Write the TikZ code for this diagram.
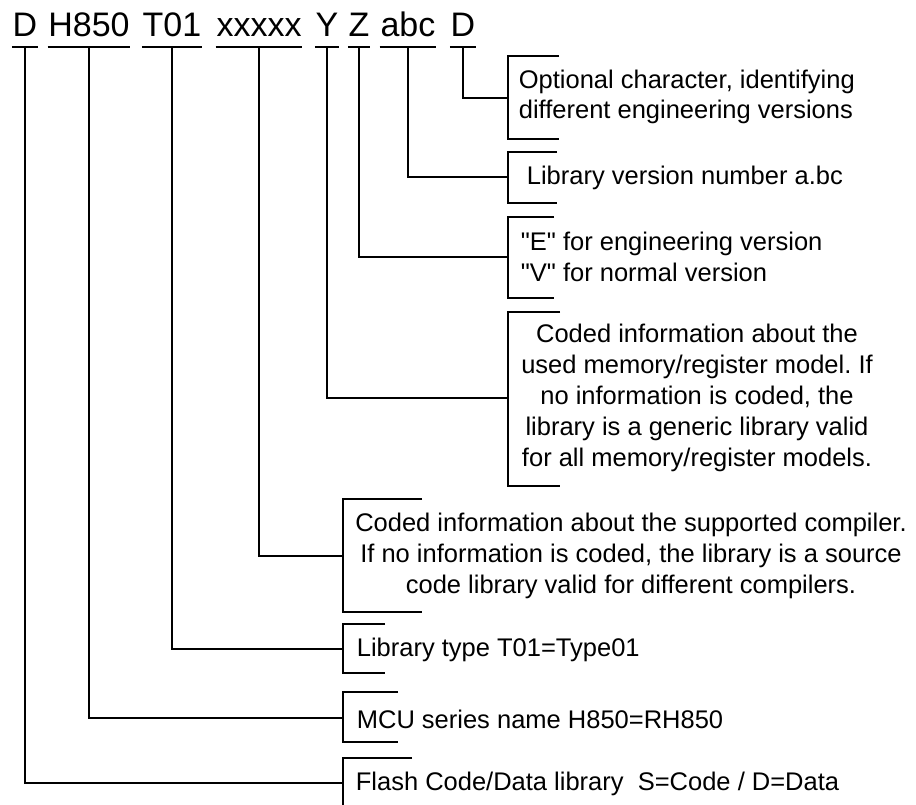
\documentclass[tikz,border=0pt]{standalone}
\usepackage{fontspec}
\setmainfont{Liberation Sans}[Ligatures=TeXOff]
\frenchspacing
\begin{document}
\begin{tikzpicture}[x=1pt,y=-1pt,line width=1.7pt,line join=miter,
  code/.style={font=\fontsize{34}{40}\selectfont,inner sep=0pt,anchor=base},
  desc/.style={font=\fontsize{25.5}{30.5}\selectfont,inner sep=0pt,align=left,anchor=west},
  descc/.style={font=\fontsize{25.5}{30.8}\selectfont,inner sep=0pt,align=center,anchor=center},
  ul/.style={line width=1.7pt},
  brk/.style={line width=1.7pt}]
\useasboundingbox (0,0) rectangle (916,805);
% code words
\node[code] (w1) at (25,37) {D};
\node[code] (w2) at (89,37) {H850};
\node[code] (w3) at (172,37) {T01};
\node[code] (w4) at (259,37) {xxxxx};
\node[code] (w5) at (327,37) {Y};
\node[code] (w6) at (359,37) {Z};
\node[code] (w7) at (408,37) {abc};
\node[code] (w8) at (463,37) {D};
% underlines
\foreach \w in {w1,w2,w3,w4,w5,w6,w7,w8}{
  \draw[ul] ([yshift=-10pt]\w.base west) -- ([yshift=-10pt]\w.base east);
}
% bracket junction points
\coordinate (c8) at (508,98);
\coordinate (c7) at (508,177);
\coordinate (c6) at (508,257);
\coordinate (c5) at (508,398);
\coordinate (c4) at (343,556);
\coordinate (c3) at (343,649);
\coordinate (c2) at (343,718);
\coordinate (c1) at (343,783);
% connectors
\draw ([yshift=-10pt]w8.base) |- (c8);
\draw ([yshift=-10pt]w7.base) |- (c7);
\draw ([yshift=-10pt]w6.base) |- (c6);
\draw ([yshift=-10pt]w5.base) |- (c5);
\draw ([yshift=-10pt]w4.base) |- (c4);
\draw ([yshift=-10pt]w3.base) |- (c3);
\draw ([yshift=-10pt]w2.base) |- (c2);
\draw ([yshift=-10pt]w1.base) |- (c1);
% brackets
\draw[brk] (559,56) -- (508,56) -- (508,139) -- (559,139);
\draw[brk] (557,152) -- (508,152) -- (508,203) -- (557,203);
\draw[brk] (554,217) -- (508,217) -- (508,298) -- (554,298);
\draw[brk] (560,312) -- (508,312) -- (508,486) -- (560,486);
\draw[brk] (422,499) -- (343,499) -- (343,612) -- (422,612);
\draw[brk] (385,624) -- (343,624) -- (343,673) -- (385,673);
\draw[brk] (398,692) -- (343,692) -- (343,742) -- (398,742);
\draw[brk] (412,758) -- (343,758) -- (343,806);
% descriptions
\node[desc] (t8) at (518,97) {Optional character, identifying\\different engineering versions};
\node[desc] (t7) at (526,178) {Library version number a.bc};
\node[desc] (t6) at (520,257) {"E" for engineering version\\"V" for normal version};
\node[descc] (t5) at (697,398) {Coded information about the\\used memory/register model. If\\no information is coded, the\\library is a generic library valid\\for all memory/register models.};
\node[descc] (t4) at (631,556) {Coded information about the supported compiler.\\If no information is coded, the library is a source\\code library valid for different compilers.};
\node[desc] (t3) at (356,650) {Library type T01=Type01};
\node[desc] (t2) at (356,719) {MCU series name H850=RH850};
\node[desc] (t1) at (355,784) {Flash Code/Data library\ \ S=Code / D=Data};
\end{tikzpicture}
\end{document}
